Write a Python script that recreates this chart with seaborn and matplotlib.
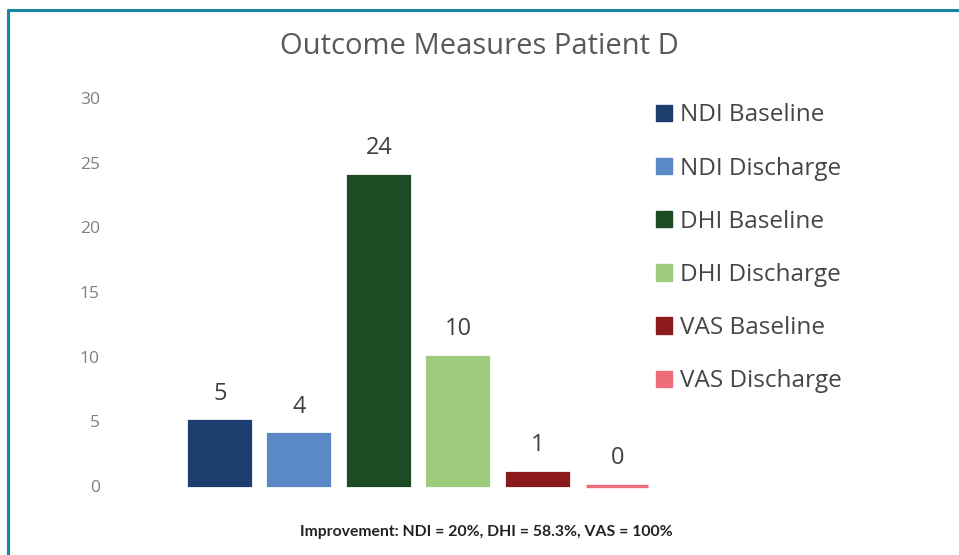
import matplotlib
matplotlib.use("Agg")
import matplotlib.pyplot as plt
from matplotlib.patches import Patch
from matplotlib.lines import Line2D
import seaborn as sns

# data
categories = ["NDI Baseline", "NDI Discharge", "DHI Baseline",
              "DHI Discharge", "VAS Baseline", "VAS Discharge"]
values = [5, 4, 24, 10, 1, 0]
colors = ["#1b3e6f", "#5b88c6", "#1b4c24", "#9dcc7f", "#8c1a1c", "#ef6d79"]
y_ticks = [0, 5, 10, 15, 20, 25, 30]
title = "Outcome Measures Patient D"
footnote = "Improvement: NDI = 20%, DHI = 58.3%, VAS = 100%"

sns.set_style("white")
plt.rcParams["font.family"] = ["Open Sans", "DejaVu Sans"]

fig = plt.figure(figsize=(9.59, 5.55), dpi=100)
ax = fig.add_axes([0.188, 0.1243, 0.497, 0.6991])

sns.barplot(x=categories, y=values, hue=categories, palette=colors,
            width=0.78, legend=False, ax=ax, saturation=1,
            linewidth=1.6, errorbar=None)
# edge in the same colour as the fill, so the zero bar shows as a line
for patch in ax.patches:
    patch.set_edgecolor(patch.get_facecolor())
    patch.set_clip_on(False)
    if patch.get_height() == 0:
        patch.set_linewidth(2.4)

ax.set_xlim(-0.5, 5.5)
ax.set_ylim(0, 30)
ax.set_yticks(y_ticks)
ax.set_xticks([])
ax.set_xlabel("")
ax.set_ylabel("")
ax.tick_params(axis="y", length=0, pad=58, labelsize=12.5, labelcolor="#808080")
sns.despine(ax=ax, left=True, bottom=True)

# value labels above bars
for i, v in enumerate(values):
    ax.annotate(str(v), (i, v), xytext=(0, 20), textcoords="offset points",
                ha="center", va="center", fontsize=17, color="#404040")

fig.text(0.5, 0.917, title, ha="center", va="center",
         fontsize=21, color="#595959")

handles = [Patch(facecolor=c, edgecolor=c) for c in colors]
fig.legend(handles, categories, loc="upper left",
           bbox_to_anchor=(0.661, 0.853), frameon=False,
           fontsize=17.5, labelcolor="#454545",
           handlelength=0.65, handleheight=0.65, handletextpad=0.35,
           labelspacing=1.2)

fig.text(0.507, 0.042, footnote, ha="center", va="center",
         fontsize=11.3, fontweight="bold", color="#222222",
         family=["Lato", "DejaVu Sans"])

# teal frame on top and left
fig.add_artist(Line2D([0.0085, 1.0], [0.982, 0.982], color="#1685a6",
                      linewidth=2.2, transform=fig.transFigure))
fig.add_artist(Line2D([0.0085, 0.0085], [0.0, 0.982], color="#1685a6",
                      linewidth=2.2, transform=fig.transFigure))

fig.savefig("out.png", dpi=100)
